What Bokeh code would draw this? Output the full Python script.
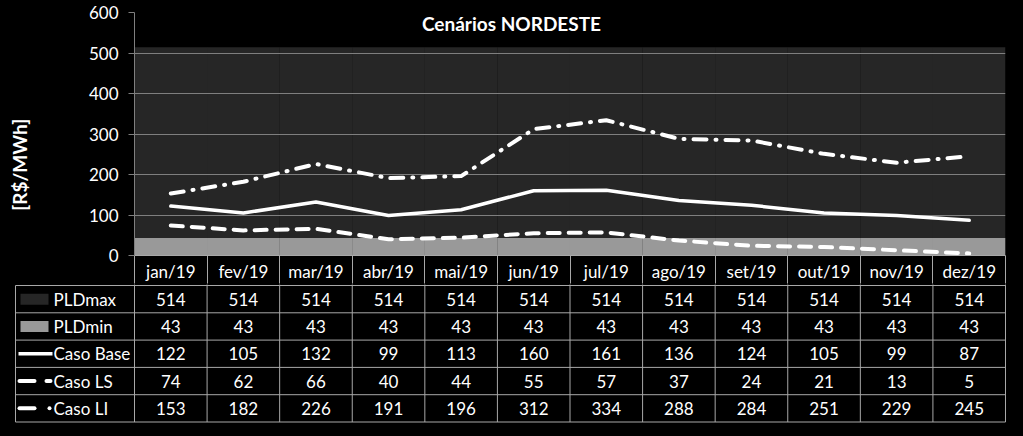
import math
from bokeh.plotting import figure
from bokeh.models import Range1d, FixedTicker
from bokeh.layouts import column, row
from bokeh.core.properties import value
from bokeh.embed import file_html
from bokeh.resources import INLINE

# ---------------- data ----------------
months = ["jan/19", "fev/19", "mar/19", "abr/19", "mai/19", "jun/19",
          "jul/19", "ago/19", "set/19", "out/19", "nov/19", "dez/19"]
pld_max = [514, 514, 514, 514, 514, 514, 514, 514, 514, 514, 514, 514]
pld_min = [43, 43, 43, 43, 43, 43, 43, 43, 43, 43, 43, 43]
caso_base = [122, 105, 132, 99, 113, 160, 161, 136, 124, 105, 99, 87]
caso_ls = [74, 62, 66, 40, 44, 55, 57, 37, 24, 21, 13, 5]
caso_li = [153, 182, 226, 191, 196, 312, 334, 288, 284, 251, 229, 245]
series_names = ["PLDmax", "PLDmin", "Caso Base", "Caso LS", "Caso LI"]
y_ticks = [0, 100, 200, 300, 400, 500, 600]
title_text = "Cenários NORDESTE"
y_label_text = "[R$/MWh]"

FONT = "Lato"
DARK = "#262626"
GRAY = "#999999"
GRID = "#7f7f7f"
TABLE_LINE = "#a8a8a8"
FS = "17px"

n = len(months)
centers = [i + 0.5 for i in range(n)]
bounds = [float(i) for i in range(n + 1)]

# layout geometry (pixels)
W = 1023
LABW = 40
FL, FR, FT, FB = 134, 1005, 12, 256
TOP_H = 284
cw = (FR - FL) / n
ppu = (FB - FT) / 600.0


def px(xp):
    return (xp - FL) / cw


# ---------------- y label strip ----------------
lf = figure(width=LABW, height=TOP_H, x_range=Range1d(0, LABW), y_range=Range1d(TOP_H, 0),
            output_backend="svg", toolbar_location=None, min_border=0,
            background_fill_color="black", border_fill_color="black",
            outline_line_color=None)
lf.axis.visible = False
lf.grid.visible = False
lf.text(x=[19], y=[178], text=[y_label_text], angle=math.pi / 2,
        text_color="white", text_font=value(FONT), text_font_style="bold",
        text_font_size="19px", text_align="center", text_baseline="middle")

# ---------------- chart ----------------
p = figure(width=W - LABW, height=TOP_H, x_range=Range1d(0, n), y_range=Range1d(0, 600),
           output_backend="svg", toolbar_location=None,
           min_border_left=FL - LABW, min_border_right=W - FR, min_border_top=FT,
           min_border_bottom=TOP_H - FB,
           background_fill_color="black", border_fill_color="black",
           outline_line_color=None)

r1 = p.vbar(x=centers, top=pld_max, bottom=0, width=1.002, fill_color=DARK, line_color=None)
r2 = p.vbar(x=centers, top=pld_min, bottom=0, width=1.002, fill_color=GRAY, line_color=None)
r1.level = "image"
r2.level = "image"

p.line(centers, caso_base, line_color="white", line_width=3.5,
       line_join="round", line_cap="round")
p.line(centers, caso_ls, line_color="white", line_width=4,
       line_dash="12 9", line_join="round", line_cap="round")
p.line(centers, caso_li, line_color="white", line_width=4,
       line_dash="13 9 1 9", line_join="round", line_cap="round")

p.text(x=[px(511)], y=[(FB - 23) / ppu], text=[title_text],
       text_color="white", text_font=value(FONT), text_font_style="bold",
       text_font_size="19px", text_align="center", text_baseline="middle")

# y axis
p.yaxis.ticker = FixedTicker(ticks=y_ticks)
p.yaxis.axis_line_color = GRID
p.yaxis.major_tick_line_color = GRID
p.yaxis.major_tick_out = 6
p.yaxis.major_tick_in = 0
p.yaxis.minor_tick_line_color = None
p.yaxis.major_label_text_color = "white"
p.yaxis.major_label_text_font = FONT
p.yaxis.major_label_text_font_size = FS
p.yaxis.major_label_standoff = 10

p.ygrid.ticker = FixedTicker(ticks=y_ticks[1:])
p.ygrid.grid_line_color = GRID
p.ygrid.grid_line_width = 1
p.xgrid.visible = False

# x axis: month labels at centers, category dividers as minor ticks
p.xaxis.ticker = FixedTicker(ticks=centers, minor_ticks=bounds)
p.xaxis.major_label_overrides = {c: m for c, m in zip(centers, months)}
p.xaxis.major_tick_line_color = None
p.xaxis.major_tick_out = 0
p.xaxis.major_tick_in = 0
p.xaxis.minor_tick_line_color = TABLE_LINE
p.xaxis.minor_tick_out = TOP_H - FB
p.xaxis.minor_tick_in = 0
p.xaxis.axis_line_color = TABLE_LINE
p.xaxis.major_label_text_color = "white"
p.xaxis.major_label_text_font = FONT
p.xaxis.major_label_text_font_size = FS
p.xaxis.major_label_standoff = -23

# ---------------- data table ----------------
BOT_H = 436 - TOP_H
t = figure(width=W, height=BOT_H, x_range=Range1d(px(0), px(W)), y_range=Range1d(BOT_H, 0),
           output_backend="svg", toolbar_location=None, min_border=0,
           background_fill_color="black", border_fill_color="black",
           outline_line_color=None)
t.axis.visible = False
t.grid.visible = False

y0 = 285 - TOP_H
rh = 27.3
nrows = len(series_names)
row_edges = [y0 + k * rh for k in range(nrows + 1)]
row_centers = [y0 + (k + 0.5) * rh for k in range(nrows)]
left_x = px(15)

t.segment(x0=[left_x] * len(row_edges), x1=[n] * len(row_edges), y0=row_edges, y1=row_edges,
          line_color=TABLE_LINE, line_width=1)
t.segment(x0=bounds, x1=bounds, y0=[-2] * len(bounds), y1=[row_edges[-1]] * len(bounds),
          line_color=TABLE_LINE, line_width=1)
t.segment(x0=[left_x], x1=[left_x], y0=[row_edges[0]], y1=[row_edges[-1]],
          line_color=TABLE_LINE, line_width=1)

rows = [pld_max, pld_min, caso_base, caso_ls, caso_li]
for k, vals in enumerate(rows):
    t.text(x=centers, y=[row_centers[k]] * n, text=[str(v) for v in vals],
           text_color="white", text_font=value(FONT), text_font_size=FS,
           text_align="center", text_baseline="middle")

t.text(x=[px(53)] * nrows, y=row_centers, text=series_names,
       text_color="white", text_font=value(FONT), text_font_size=FS,
       text_align="left", text_baseline="middle")

# legend keys
t.rect(x=[px(34)], y=[row_centers[0]], width=28 / cw, height=11, fill_color=DARK, line_color=None)
t.rect(x=[px(34)], y=[row_centers[1]], width=28 / cw, height=11, fill_color=GRAY, line_color=None)
t.segment(x0=[px(18)], x1=[px(52)], y0=[row_centers[2]], y1=[row_centers[2]],
          line_color="white", line_width=3.5)
t.segment(x0=[px(19), px(46)], x1=[px(34), px(50)], y0=[row_centers[3]] * 2, y1=[row_centers[3]] * 2,
          line_color="white", line_width=4, line_cap="round")
t.segment(x0=[px(19)], x1=[px(34)], y0=[row_centers[4]], y1=[row_centers[4]],
          line_color="white", line_width=4, line_cap="round")
t.scatter(x=[px(49)], y=[row_centers[4]], size=4, marker="circle",
          fill_color="white", line_color=None)

layout = column(row(lf, p, spacing=0), t, spacing=0, styles={"background-color": "black"})
open("out.html", "w").write(file_html(layout, INLINE))
